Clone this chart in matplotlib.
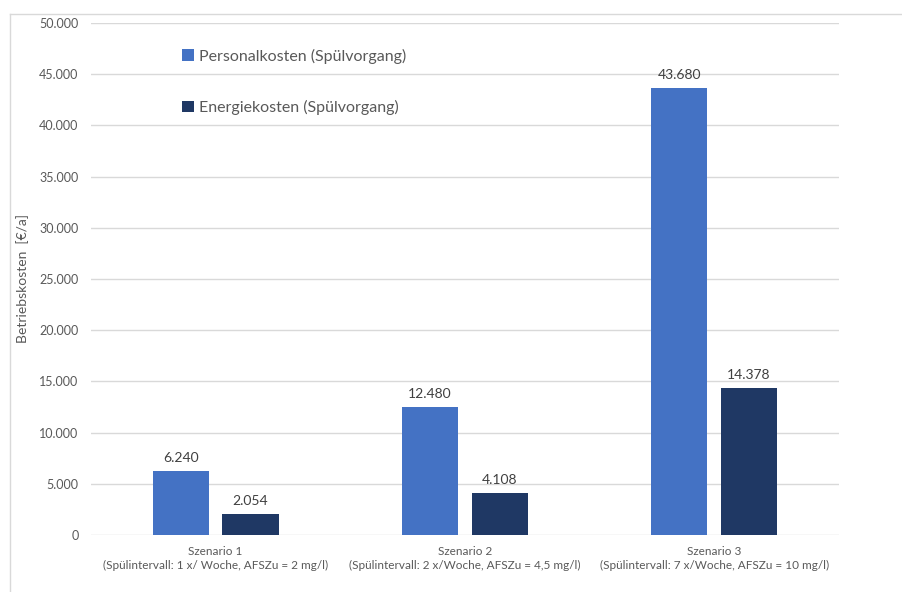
import matplotlib.pyplot as plt
import matplotlib.ticker as ticker
from matplotlib.lines import Line2D
import numpy as np

# data
scenarios = ['Szenario 1\n(Spülintervall: 1 x/ Woche, AFSZu = 2 mg/l)',
             'Szenario 2\n(Spülintervall: 2 x/Woche, AFSZu = 4,5 mg/l)',
             'Szenario 3\n(Spülintervall: 7 x/Woche, AFSZu = 10 mg/l)']
personal = [6240, 12480, 43680]
energie = [2054, 4108, 14378]
series_names = ['Personalkosten (Spülvorgang)', 'Energiekosten (Spülvorgang)']

plt.rcParams['font.family'] = ['Lato', 'DejaVu Sans']
text_col = '#595959'

fig = plt.figure(figsize=(9.02, 5.92), dpi=100)
ax = fig.add_axes([0.1009, 0.0963, 0.829, 0.865])

x = np.arange(len(scenarios))
w = 0.225
off = 0.14
b1 = ax.bar(x - off, personal, w, color='#4472C4', label=series_names[0], zorder=3)
b2 = ax.bar(x + off, energie, w, color='#1F3864', label=series_names[1], zorder=3)

def fmt(v):
    return f'{v:,.0f}'.replace(',', '.')

for bars, vals in ((b1, personal), (b2, energie)):
    for r, v in zip(bars, vals):
        ax.annotate(fmt(v), (r.get_x() + r.get_width() / 2, v), xytext=(0, 5),
                    textcoords='offset points', ha='center', va='bottom',
                    fontsize=10, color='#404040')

ax.set_xlim(-0.5, 2.5)
ax.set_ylim(0, 50000)
ax.yaxis.set_major_locator(ticker.MultipleLocator(5000))
ax.yaxis.set_major_formatter(ticker.FuncFormatter(lambda v, p: fmt(v)))
ax.set_xticks(x)
ax.set_xticklabels(scenarios, fontsize=8.5, color=text_col, linespacing=1.3)
ax.tick_params(axis='y', labelsize=9, colors=text_col, length=0, pad=9)
ax.tick_params(axis='x', length=0, pad=8)
ax.grid(axis='y', color='#D9D9D9', linewidth=1, zorder=0)
for s in ax.spines.values():
    s.set_visible(False)

ax.set_ylabel('Betriebskosten  [€/a]', fontsize=10, color=text_col)
ax.yaxis.set_label_coords(-0.083, 0.50)

ax.legend(loc='upper left', bbox_to_anchor=(0.103, 0.978), frameon=False,
          fontsize=11.5, labelcolor=text_col, labelspacing=2.3,
          handlelength=0.7, handleheight=0.7, handletextpad=0.35)

# chart border (top and left visible in the crop)
fig.add_artist(Line2D([0.011, 1.0], [0.976, 0.976], transform=fig.transFigure,
                      color='#D9D9D9', linewidth=1))
fig.add_artist(Line2D([0.011, 0.011], [0.0, 0.976], transform=fig.transFigure,
                      color='#D9D9D9', linewidth=1))

fig.savefig('out.png', dpi=100)
